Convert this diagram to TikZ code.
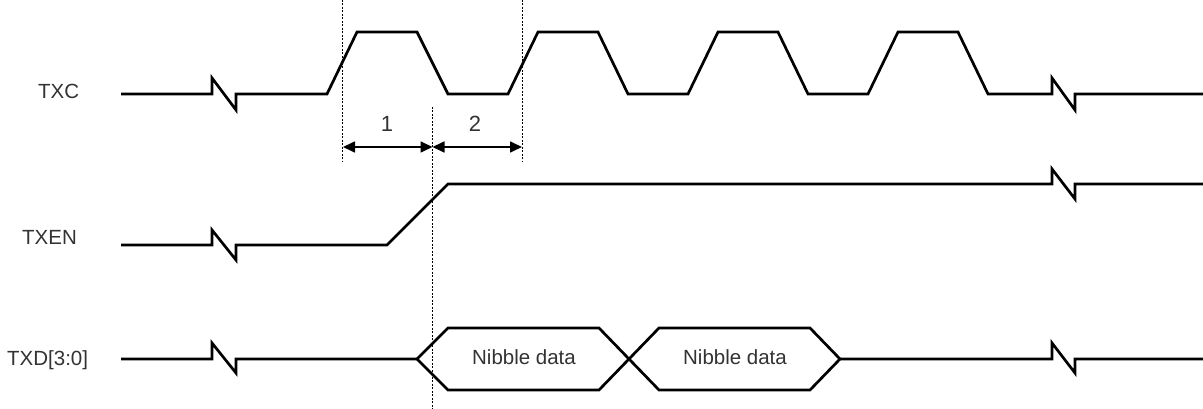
\documentclass[tikz,border=0pt]{standalone}
\usepackage{fontspec}
\setmainfont{Liberation Sans}
\usetikzlibrary{arrows.meta}
\definecolor{txtgray}{HTML}{333333}
\begin{document}
\begin{tikzpicture}[x=1pt,y=-1pt,
  wave/.style={line width=2.7pt,line join=miter,black},
  guide/.style={line width=1.8pt,black,dash pattern=on 2pt off 1.5pt},
  dimarrow/.style={line width=1.7pt,black,{Triangle[length=12pt,width=11pt]}-{Triangle[length=12pt,width=11pt]}},
  siglabel/.style={anchor=base west,inner sep=0pt,text=txtgray,font=\fontsize{20.5}{24}\selectfont},
  datalabel/.style={anchor=base,inner sep=0pt,text=txtgray,font=\fontsize{20.5}{24}\selectfont},
  numlabel/.style={anchor=base,inner sep=0pt,text=txtgray,font=\fontsize{22}{26}\selectfont}]
\useasboundingbox (0,0) rectangle (1203,409);
\fill[white] (0,0) rectangle (1203,409);

% labels
\node[siglabel] (lTXC) at (38,99) {TXC};
\node[siglabel] (lTXEN) at (22,244) {TXEN};
\node[siglabel] (lTXD) at (7,365.5) {TXD[3:0]};

% TXC
\draw[wave] (121,94) -- (212,94) -- (212,78) -- (236,110) -- (236,94) -- (327,94)
  -- (357,32) -- (417,32) -- (448,94) -- (508,94)
  -- (538,32) -- (598,32) -- (628,94) -- (688,94)
  -- (718,32) -- (778,32) -- (808,94) -- (868,94)
  -- (898,32) -- (958,32) -- (988,94) -- (1052,94)
  -- (1052,78) -- (1075,110) -- (1075,94) -- (1203,94);

% TXEN
\draw[wave] (121,245) -- (212,245) -- (212,230) -- (236,260) -- (236,245) -- (387,245)
  -- (448,184) -- (1052,184) -- (1052,169) -- (1075,199) -- (1075,184) -- (1203,184);

% TXD
\draw[wave] (121,359) -- (212,359) -- (212,343) -- (236,373) -- (236,359) -- (417,359);
\draw[wave] (417,359) -- (448,328) -- (599,328) -- (659,390) -- (810,390) -- (840,359) -- (810,328) -- (659,328) -- (599,390) -- (448,390) -- cycle;
\draw[wave] (840,359) -- (1052,359) -- (1052,343) -- (1075,373) -- (1075,359) -- (1203,359);
\node[datalabel] (d1) at (524,364) {Nibble data};
\node[datalabel] (d2) at (735,364) {Nibble data};

% guides
\coordinate (gAtop) at (342.5,0);
\coordinate (gAbot) at (342.5,162);
\coordinate (gBtop) at (522.5,0);
\coordinate (gBbot) at (522.5,162);
\coordinate (gCtop) at (432.5,107);
\coordinate (gCbot) at (432.5,409);
\draw[guide] (gAtop) -- (gAbot);
\draw[guide] (gBtop) -- (gBbot);
\draw[guide] (gCtop) -- (gCbot);

% dimension arrows
\coordinate (aL) at (343,147);
\coordinate (aM) at (432.5,147);
\coordinate (aR) at (522,147);
\draw[dimarrow] (aL) -- (aM);
\draw[dimarrow] (aM) -- (aR);
\node[numlabel] (n1) at (387,132) {1};
\node[numlabel] (n2) at (475,132) {2};
\end{tikzpicture}
\end{document}
